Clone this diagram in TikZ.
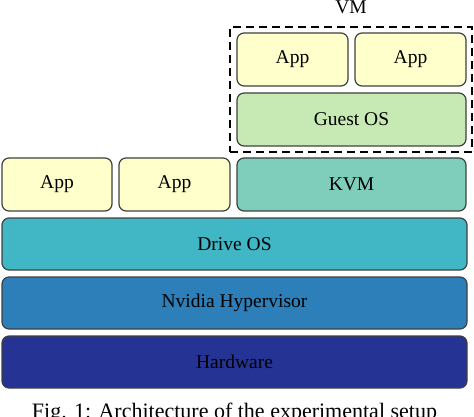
\documentclass[tikz,border=0pt]{standalone}
\usepackage{fontspec}
\setmainfont{Liberation Serif}
\definecolor{cApp}{HTML}{FFFFCC}
\definecolor{cGuest}{HTML}{C7E9B4}
\definecolor{cKVM}{HTML}{7FCDBB}
\definecolor{cDrive}{HTML}{41B6C4}
\definecolor{cNvidia}{HTML}{2C7FB8}
\definecolor{cHW}{HTML}{253494}
\begin{document}
\begin{tikzpicture}[x=1pt,y=-1pt,
  layerbox/.style={draw=black!75, line width=1.2pt, rounded corners=7pt,
    inner sep=0pt, font=\fontsize{19.5}{23}\selectfont},
  vmframe/.style={draw=black, line width=1.8pt, dash pattern=on 8pt off 5pt},
  lbl/.style={inner sep=0pt, font=\fontsize{19.5}{23}\selectfont},
  captiontext/.style={inner sep=0pt, font=\fontsize{22}{26}\selectfont}]
\useasboundingbox (0,0) rectangle (474,417);
% VM frame
\node[vmframe, minimum width=242pt, minimum height=125pt, inner sep=0pt] (vm) at (351,89.5) {};
\node[lbl, anchor=base] (vmlabel) at (351,14) {VM};
% VM contents
\node[layerbox, fill=cApp, minimum width=111pt, minimum height=53pt] (vapp1) at (292.5,59.5) {App};
\node[layerbox, fill=cApp, minimum width=111pt, minimum height=53pt] (vapp2) at (410.5,59.5) {App};
\node[layerbox, fill=cGuest, minimum width=229pt, minimum height=53pt] (guest) at (351.5,119.5) {Guest OS};
% host row
\node[layerbox, fill=cApp, minimum width=110pt, minimum height=53pt] (app1) at (57,184.5) {App};
\node[layerbox, fill=cApp, minimum width=111pt, minimum height=53pt] (app2) at (174.5,184.5) {App};
\node[layerbox, fill=cKVM, minimum width=229pt, minimum height=53pt] (kvm) at (351.5,184.5) {KVM};
% wide layers
\node[layerbox, fill=cDrive, minimum width=465pt, minimum height=52pt] (drive) at (234.5,244) {Drive OS};
\node[layerbox, fill=cNvidia, minimum width=465pt, minimum height=52pt] (nvidia) at (234.5,303) {Nvidia Hypervisor};
\node[layerbox, fill=cHW, minimum width=465pt, minimum height=52pt] (hw) at (234.5,362) {Hardware};
% caption (cut off at the bottom edge)
\node[captiontext, anchor=base] (caption) at (234.5,418.5) {Fig. 1: Architecture of the experimental setup};
\end{tikzpicture}
\end{document}
